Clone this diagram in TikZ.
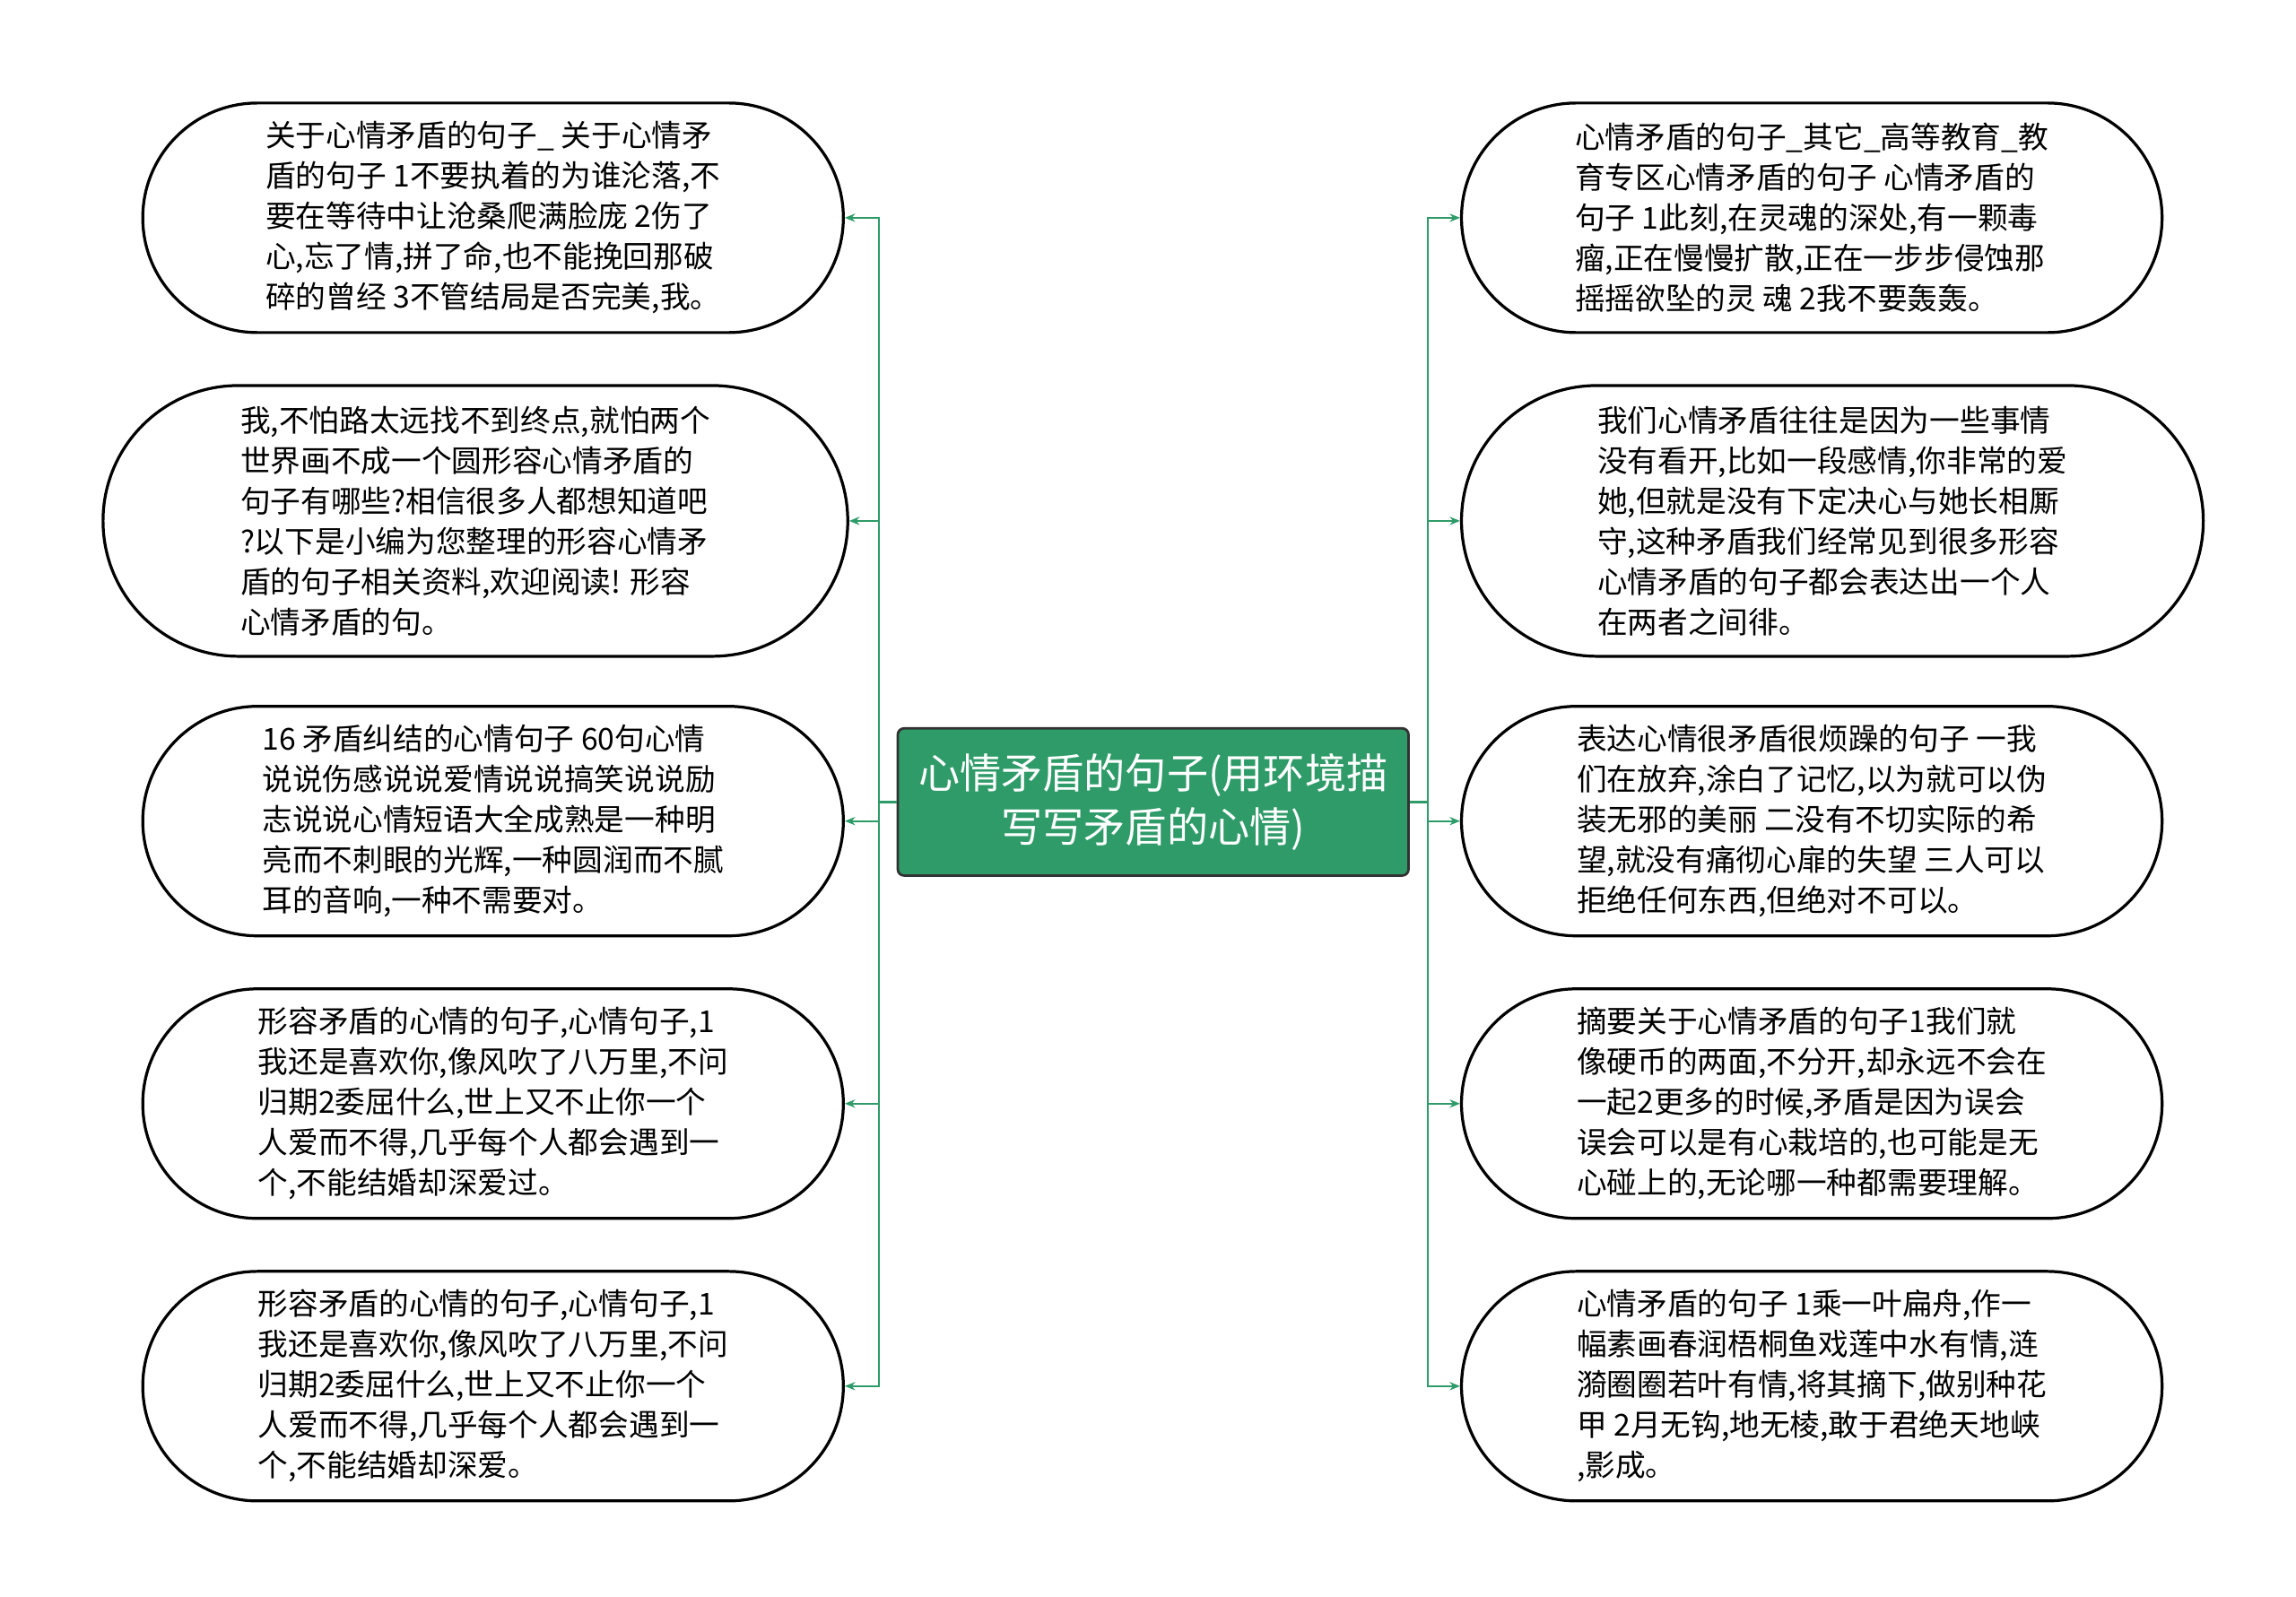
\documentclass[tikz,border=0pt]{standalone}
\usepackage{fontspec}
\setmainfont{Noto Sans CJK SC}
\usetikzlibrary{positioning,arrows.meta,calc}
\definecolor{mapgreen}{HTML}{2E9B68}
\tikzset{
    x=0.025cm,
    y=-0.025cm,
    leaf/.style 2 args = {
        draw,
        shape=rectangle,
        line width=1.4pt,
        minimum width=#1*0.025cm,
        minimum height=#2*0.025cm,
        rounded corners=#2*0.0125cm,
        align=left,
        font=\fontsize{14.6pt}{19.5pt}\selectfont,
        inner sep=0pt
    },
    root/.style = {
        draw=black!80,
        fill=mapgreen,
        text=white,
        shape=rectangle,
        rounded corners=3pt,
        line width=1.2pt,
        minimum width=347*0.025cm,
        minimum height=100*0.025cm,
        align=center,
        font=\fontsize{20pt}{26pt}\selectfont
    },
    link/.style = {
        draw=mapgreen,
        line width=1pt,
        -{Stealth[length=5pt,width=4pt]}
    },
}
\begin{document}
\begin{tikzpicture}
                \useasboundingbox (0,0) rectangle (1560,1085);
                \node[root] (top) at (783.5,545) {心情矛盾的句子(用环境描\\写写矛盾的心情)};

                \node[leaf={476}{156}] (l1) at (335,148) {关于心情矛盾的句子\_ 关于心情矛\\盾的句子 1不要执着的为谁沦落,不\\要在等待中让沧桑爬满脸庞 2伤了\\心,忘了情,拼了命,也不能挽回那破\\碎的曾经 3不管结局是否完美,我。};
                \node[leaf={506}{184}] (l2) at (323,354) {我,不怕路太远找不到终点,就怕两个\\世界画不成一个圆形容心情矛盾的\\句子有哪些?相信很多人都想知道吧\\?以下是小编为您整理的形容心情矛\\盾的句子相关资料,欢迎阅读! 形容\\心情矛盾的句。};
                \node[leaf={476}{156}] (l3) at (335,558) {16 矛盾纠结的心情句子 60句心情\\说说伤感说说爱情说说搞笑说说励\\志说说心情短语大全成熟是一种明\\亮而不刺眼的光辉,一种圆润而不腻\\耳的音响,一种不需要对。};
                \node[leaf={476}{156}] (l4) at (335,750) {形容矛盾的心情的句子,心情句子,1\\我还是喜欢你,像风吹了八万里,不问\\归期2委屈什么,世上又不止你一个\\人爱而不得,几乎每个人都会遇到一\\个,不能结婚却深爱过。};
                \node[leaf={476}{156}] (l5) at (335,942) {形容矛盾的心情的句子,心情句子,1\\我还是喜欢你,像风吹了八万里,不问\\归期2委屈什么,世上又不止你一个\\人爱而不得,几乎每个人都会遇到一\\个,不能结婚却深爱。};

                \node[leaf={476}{156}] (r1) at (1231,148) {心情矛盾的句子\_其它\_高等教育\_教\\育专区心情矛盾的句子 心情矛盾的\\句子 1此刻,在灵魂的深处,有一颗毒\\瘤,正在慢慢扩散,正在一步步侵蚀那\\摇摇欲坠的灵 魂 2我不要轰轰。};
                \node[leaf={504}{184}] (r2) at (1245,354) {我们心情矛盾往往是因为一些事情\\没有看开,比如一段感情,你非常的爱\\她,但就是没有下定决心与她长相厮\\守,这种矛盾我们经常见到很多形容\\心情矛盾的句子都会表达出一个人\\在两者之间徘。};
                \node[leaf={476}{156}] (r3) at (1231,558) {表达心情很矛盾很烦躁的句子 一我\\们在放弃,涂白了记忆,以为就可以伪\\装无邪的美丽 二没有不切实际的希\\望,就没有痛彻心扉的失望 三人可以\\拒绝任何东西,但绝对不可以。};
                \node[leaf={476}{156}] (r4) at (1231,750) {摘要关于心情矛盾的句子1我们就\\像硬币的两面,不分开,却永远不会在\\一起2更多的时候,矛盾是因为误会\\误会可以是有心栽培的,也可能是无\\心碰上的,无论哪一种都需要理解。};
                \node[leaf={476}{156}] (r5) at (1231,942) {心情矛盾的句子 1乘一叶扁舟,作一\\幅素画春润梧桐鱼戏莲中水有情,涟\\漪圈圈若叶有情,将其摘下,做别种花\\甲 2月无钩,地无棱,敢于君绝天地峡\\,影成。};

                \coordinate (lbus) at (597,545);
                \coordinate (rbus) at (970,545);
                \draw[draw=mapgreen, line width=1pt] (top.west) -- (lbus);
                \draw[draw=mapgreen, line width=1pt] (top.east) -- (rbus);
                \foreach \n in {l1,l2,l3,l4,l5}
                    \path[link] (lbus) |- (\n.east);
                \foreach \n in {r1,r2,r3,r4,r5}
                    \path[link] (rbus) |- (\n.west);
\end{tikzpicture}
\end{document}
